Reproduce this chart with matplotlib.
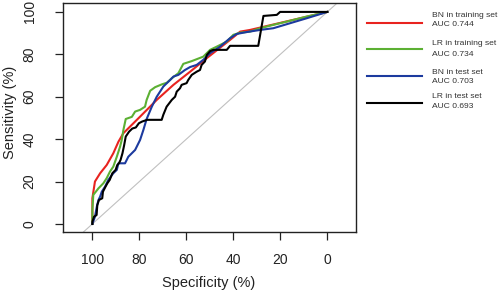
import matplotlib
matplotlib.use("Agg")
import matplotlib.pyplot as plt
from matplotlib.lines import Line2D

plt.rcParams['font.family'] = ['Liberation Sans', 'DejaVu Sans']

# ---- data (specificity %, sensitivity %) ----
bn_train_spec = [100, 100, 98.9, 96.7, 93.9, 91.1, 88.9, 86.8, 79.7, 72.6, 65.5, 58.4, 51.3, 41.4, 37.1, 32.9, 0]
bn_train_sens = [0, 12.1, 20, 23.9, 27.8, 33.3, 38.8, 42.8, 50.6, 58.5, 65.6, 71.8, 78.2, 86.8, 90.7, 91.5, 100]

lr_train_spec = [100, 100, 99.6, 97.4, 95.3, 93.9, 92.5, 91.1, 89.6, 88.2, 87.5, 86.8, 85.8, 83.2, 81.8,
                 79.7, 77.6, 76.9, 75.4, 73.3, 70.5, 68.3, 66.2, 63.4, 61.3, 57.7, 52.8, 49.9, 47.1,
                 42.8, 40, 37.1, 32.9, 28.6, 24.4, 15.9, 8.8, 0]
lr_train_sens = [0, 6.6, 13.7, 16.8, 19.2, 21.6, 24.7, 27, 31.7, 36.5, 39.6, 44.3, 49.5, 50.5, 53,
                 53.8, 55.3, 58.5, 62.8, 64.5, 65.8, 66.6, 68.7, 71.1, 75.5, 76.8, 78.9, 82.1, 83.6,
                 86, 89.2, 90.2, 90.7, 92.3, 93.5, 95.8, 97.8, 100]

bn_test_spec = [100, 98.9, 98.1, 97.4, 96.7, 96, 94.6, 93.2, 91.1, 89.6, 88.9, 86.1, 84.7, 81.8, 79.7,
                78.3, 76.9, 74.7, 72.6, 69.8, 66.9, 65.5, 63.4, 60.6, 58.4, 55.6, 52.8, 49.9, 45.7,
                41.4, 38.6, 34.3, 28.6, 23, 8.8, 0]
bn_test_sens = [0, 3.4, 8.2, 11.3, 12.9, 15.2, 17.6, 20.8, 23.9, 25.5, 28.6, 28.6, 31.7, 34.9, 39.6,
                44.3, 49.5, 55.3, 60, 64.8, 67.9, 69.5, 70.3, 72.6, 74, 75, 77.4, 80.5, 83.6,
                87.6, 89.6, 90.5, 91.5, 92.3, 97, 100]

lr_test_spec = [100, 100, 99.3, 98.2, 97.9, 97.2, 95.8, 95.5, 94.4, 93.6, 92.6, 91.5, 90.1, 89.4, 88.7,
                88, 87.2, 86.5, 85.8, 84.4, 83, 81.5, 80.2, 78.8, 76.7, 70.5, 69.8, 68.4, 66.2, 64.8,
                64.1, 62.7, 62, 59.9, 59.2, 57.7, 55.6, 54.2, 53.5, 52.1, 51.3, 49.9, 48.5, 42.8,
                41.4, 29.4, 27.2, 21.5, 20.1, 0]
lr_test_sens = [0, 1, 3.4, 4.2, 8.9, 11.3, 12.1, 15.2, 17.6, 19.2, 20.8, 23.9, 25.5, 27.8, 28.6,
                30.2, 33.3, 37, 41.2, 43.5, 45, 45.5, 47.5, 48.3, 49.1, 49.1, 51.5, 55.3, 58.5, 60,
                62.4, 64, 65.6, 66.4, 67.9, 70.3, 71.8, 72.6, 75, 76.6, 79.7, 81.5, 82.1, 82.1,
                84, 84, 98.1, 98.6, 100, 100]

series_labels = ["BN in training set", "LR in training set", "BN in test set", "LR in test set"]
auc_labels = ["AUC 0.744", "AUC 0.734", "AUC 0.703", "AUC 0.693"]
colors = ["#e8231f", "#5cb033", "#1c3a9e", "#000000"]
ticks = [100, 80, 60, 40, 20, 0]

series = [(bn_train_spec, bn_train_sens), (lr_train_spec, lr_train_sens),
          (bn_test_spec, bn_test_sens), (lr_test_spec, lr_test_sens)]

W, H = 500, 292
fig = plt.figure(figsize=(W / 100, H / 100), dpi=100)
ax = fig.add_axes([63 / W, 1 - 232 / H, (356 - 63) / W, (232 - 3) / H])

ax.set_xlim(112.5, -12.2)
ax.set_ylim(-3.8, 104.2)

# chance diagonal
ax.plot([120, -20], [-20, 120], color="#c0c0c0", lw=0.8, zorder=1)

for (sx, sy), c in zip(series, colors):
    ax.plot(sx, sy, color=c, lw=1.5, zorder=2)

ax.set_xticks(ticks)
ax.set_yticks(ticks)
ax.set_xticklabels([str(t) for t in ticks])
ax.set_yticklabels([str(t) for t in ticks], rotation=90, va="center")
ax.tick_params(axis="both", direction="out", length=6, width=0.9, labelsize=10, colors="#222222")
ax.tick_params(axis="x", pad=9)
ax.tick_params(axis="y", pad=13)
for s in ax.spines.values():
    s.set_linewidth(1.0)
    s.set_color("#222222")

fig.text(208.5 / W, 1 - 283 / H, "Specificity (%)", ha="center", va="center", fontsize=10.5, color="#222222")
fig.text(10 / W, 1 - 112 / H, "Sensitivity (%)", ha="center", va="center", rotation=90, fontsize=10.5, color="#222222")

# legend outside the plot (drawn manually)
line_y = [22.7, 49, 75.7, 103]
text1_y = [15.5, 44, 72, 96.7]
text2_y = [25, 54, 81.7, 106.5]
for i, (lab, auc, c) in enumerate(zip(series_labels, auc_labels, colors)):
    yl = line_y[i]
    fig.add_artist(Line2D([367 / W, 422 / W], [1 - yl / H, 1 - yl / H], color=c, lw=1.5,
                          transform=fig.transFigure))
    fig.text(432 / W, 1 - text1_y[i] / H, lab, ha="left", va="center", fontsize=6.1, color="#333333")
    fig.text(432 / W, 1 - text2_y[i] / H, auc, ha="left", va="center", fontsize=6.1, color="#333333")

fig.savefig("out.png", dpi=100)
